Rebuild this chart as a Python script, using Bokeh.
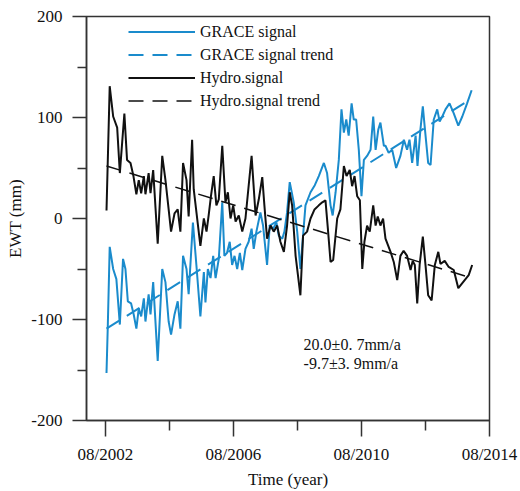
from bokeh.plotting import figure
from bokeh.models import FixedTicker, Range1d, Legend, LegendItem, Label
from bokeh.embed import file_html
from bokeh.resources import INLINE

# time in months since 08/2002
hydro_month = [0.4, 1.6, 2.9, 4.4, 5.4, 7.1, 8.1, 9.4, 10.5, 11.6, 12.5, 13.4, 14.4, 15.0, 16.2, 16.9,
               17.9, 19.6, 21.3, 22.5, 23.7, 24.6, 25.9, 27.1, 28.1, 29.1, 30.4, 31.2, 32.5, 33.1, 35.6,
               36.9, 37.9, 38.7, 39.6, 40.6, 41.6, 42.5, 43.8, 45.0, 45.9, 46.9, 47.9, 48.8, 50.0, 51.3,
               52.5, 54.8, 56.3, 57.5, 58.8, 59.6, 60.6, 61.9, 63.1, 64.4, 65.6, 66.9, 68.1, 69.1, 70.0,
               71.3, 73.1, 74.1, 75.6, 76.9, 78.4, 80.0, 81.3, 82.5, 83.4, 84.4, 85.4, 86.9, 88.1, 89.4,
               90.4, 91.6, 92.5, 93.4, 94.4, 95.4, 96.3, 97.1, 98.1, 99.1, 100.4, 101.3, 102.1, 103.1,
               104.1, 105.0, 106.9, 108.1, 109.4, 110.6, 111.8, 113.1, 114.4, 115.2, 116.0, 116.9, 117.8,
               119.0, 120.0, 121.0, 122.3, 123.5, 124.8, 125.6, 127.2, 128.7, 130.6, 132.3, 134.4, 136.2,
               137.5]
hydro_signal = [8, 131, 101, 90, 45, 104, 58, 55, 42, 24, 38, 25, 42, 24, 45, 25,
                48, -25, 62, 38, 9, -13, 5, 9, -13, 55, 38, 2, 78, 29, -27,
                0, -13, 3, 23, 42, 13, 19, 72, 16, 26, 0, 13, -3, 3, -13,
                0, 62, 3, 19, 41, 13, -20, -7, -13, -7, -23, -33, -7, 26, 13,
                -37, -76, -17, -13, 0, 9, 13, 16, 18, -10, -43, -41, 0, 9, 52,
                42, 48, 32, 42, 22, 18, -50, -23, -7, -13, 13, -7, 2, -7,
                0, -20, -33, -43, -61, -37, -32, -37, -51, -42, -46, -84, -46,
                -18, -46, -76, -81, -46, -33, -45, -42, -48, -51, -69, -62, -56,
                -46]

grace_month = [0.4, 0.9, 1.6, 2.9, 4.1, 5.4, 6.6, 7.5, 8.4, 9.6, 10.6, 11.6, 12.5, 13.4, 14.4, 15.0,
               16.2, 16.9, 17.9, 19.6, 21.3, 22.5, 23.7, 24.6, 25.9, 27.1, 28.1, 29.1, 30.4, 31.2, 32.8,
               34.1, 35.6, 36.9, 37.5, 38.4, 39.4, 40.4, 41.3, 42.5, 43.8, 44.6, 45.6, 46.6, 47.5, 48.4,
               49.4, 50.4, 51.3, 52.5, 53.7, 54.8, 55.6, 56.6, 58.1, 59.1, 60.6, 61.6, 62.9, 64.1, 65.0,
               66.3, 67.1, 68.1, 69.1, 70.6, 71.9, 73.1, 75.0, 76.9, 78.5, 80.0, 81.9, 83.1, 84.4, 85.2,
               86.3, 87.5, 88.5, 89.4, 90.3, 91.2, 92.3, 93.1, 94.0, 95.0, 96.0, 96.9, 98.1, 99.4, 100.4,
               101.3, 102.3, 103.1, 104.4, 105.0, 106.2, 107.5, 109.0, 110.6, 111.9, 113.1, 114.0, 115.0,
               116.3, 117.0, 118.1, 119.0, 119.7, 121.0, 121.9, 123.1, 124.4, 125.3, 126.3, 127.5, 129.0,
               130.6, 132.3, 133.8, 135.6, 137.3]
grace_signal = [-153, -105, -28, -50, -60, -105, -40, -50, -82, -84, -95, -109, -89, -97, -79, -102,
                -75, -95, -63, -141, -50, -63, -102, -115, -95, -82, -109, -37, -50, -75, -4,
                -46, -97, -53, -83, -50, -59, -37, -59, -40, 16, -37, -34, -23, -46, -37,
                -50, -34, -51, -30, -23, -10, -30, -13, 6, -7, -46, -7, -10, -4, -17,
                -20, -13, 6, 36, 16, -13, -50, 13, 26, 33, 42, 55, 45, 13, 3,
                26, 58, 108, 85, 98, 82, 114, 98, 98, 68, 22, 58, 62, 68, 101,
                68, 88, 95, 72, 72, 65, 68, 50, 62, 78, 68, 78, 55,
                82, 52, 88, 111, 91, 55, 53, 98, 108, 96, 101, 108, 114,
                104, 92, 101, 114, 127]

trend_month = [0.4, 137.4]
grace_trend = [-109, 119]
hydro_trend = [52, -59]

x_ticks = [0, 48, 96, 144]
x_tick_labels = ["08/2002", "08/2006", "08/2010", "08/2014"]
x_minor = [24, 72, 120]
y_ticks = [-200, -100, 0, 100, 200]
y_tick_labels = ["-200", "-100", "0", "100", "200"]
y_minor = [-150, -50, 50, 150]

BLUE = "#1a8bcc"
BLACK = "#111111"
AX = "#333333"
FONT = "Liberation Serif"

p = figure(width=520, height=491, output_backend="svg", toolbar_location=None,
           x_range=Range1d(-7.1, 144), y_range=Range1d(-200, 200),
           min_border_left=86, min_border_right=31, min_border_top=16, min_border_bottom=68)
p.xgrid.visible = False
p.ygrid.visible = False
p.outline_line_color = AX
p.outline_line_width = 1.5
p.background_fill_color = "white"
p.border_fill_color = "white"

r1 = p.line(grace_month, grace_signal, line_color=BLUE, line_width=2)
r2 = p.line(trend_month, grace_trend, line_color=BLUE, line_width=2, line_dash="15 9")
r3 = p.line(hydro_month, hydro_signal, line_color=BLACK, line_width=2)
r4 = p.line(trend_month, hydro_trend, line_color=BLACK, line_width=1.5, line_dash="15 9")

xa = p.xaxis[0]
xa.ticker = FixedTicker(ticks=x_ticks, minor_ticks=x_minor)
xa.major_label_overrides = {t: l for t, l in zip(x_ticks, x_tick_labels)}
xa.axis_label = "Time (year)"
ya = p.yaxis[0]
ya.ticker = FixedTicker(ticks=y_ticks, minor_ticks=y_minor)
ya.major_label_overrides = {t: l for t, l in zip(y_ticks, y_tick_labels)}
ya.axis_label = "EWT (mm)"

for ax, tout, mout, std, lstd in ((xa, 16, 10, 8, 3), (ya, 14, 9, 10, 3)):
    ax.axis_line_color = AX
    ax.axis_line_width = 1.5
    ax.major_tick_line_color = AX
    ax.major_tick_line_width = 1.5
    ax.minor_tick_line_color = AX
    ax.minor_tick_line_width = 1.5
    ax.major_tick_in = 0
    ax.minor_tick_in = 0
    ax.major_tick_out = tout
    ax.minor_tick_out = mout
    ax.major_label_standoff = std
    ax.axis_label_standoff = lstd
    ax.major_label_text_font = FONT
    ax.major_label_text_font_size = "17px"
    ax.major_label_text_color = "#111111"
    ax.axis_label_text_font = FONT
    ax.axis_label_text_font_size = "17px"
    ax.axis_label_text_font_style = "normal"
    ax.axis_label_text_color = "#111111"

legend = Legend(items=[LegendItem(label="GRACE signal", renderers=[r1]),
                       LegendItem(label="GRACE signal trend", renderers=[r2]),
                       LegendItem(label="Hydro.signal", renderers=[r3]),
                       LegendItem(label="Hydro.signal trend", renderers=[r4])],
                location=(42, 308), glyph_width=67, glyph_height=23, label_height=23,
                label_standoff=5, spacing=0, padding=0, margin=0,
                border_line_color=None, background_fill_alpha=0,
                label_text_font=FONT, label_text_font_size="16px", label_text_color="#111111")
p.add_layout(legend)

ann_lines = ["20.0\u00b10. 7mm/a", "-9.7\u00b13. 9mm/a"]
ann_y = [-125, -144]
for t, yv in zip(ann_lines, ann_y):
    p.add_layout(Label(x=74.3, y=yv, text=t, text_font=FONT, text_font_size="16px",
                       text_baseline="middle", text_color="#111111"))

open("out.html", "w").write(file_html(p, INLINE))
